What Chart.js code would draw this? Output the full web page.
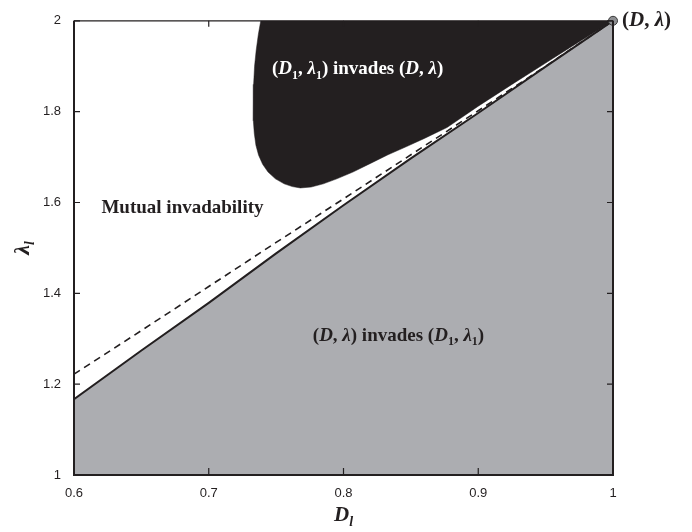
<!DOCTYPE html>
<html>
<head>
<meta charset="utf-8">
<script src="https://cdn.jsdelivr.net/npm/chart.js@4.4.0/dist/chart.umd.min.js"></script>
<style>
  html, body { margin: 0; padding: 0; background: #fff; }
</style>
</head>
<body>
<canvas id="invChart" width="692" height="532"></canvas>
<script>
// boundary curves (x = D1, y = lambda1)
const dValues = [0.6, 0.65, 0.7, 0.75, 0.8, 0.85, 0.9, 0.95, 1.0];
const solidLambda = [1.167, 1.274, 1.379, 1.488, 1.594, 1.697, 1.797, 1.899, 2.0];
const dashedLambda = [1.222, 1.318, 1.415, 1.512, 1.608, 1.705, 1.802, 1.900, 2.0];

// outline of the region where (D1, lambda1) invades (D, lambda)
const blackD = [0.7386, 0.7368, 0.7352, 0.7340, 0.7333, 0.7330, 0.7332, 0.7338, 0.7350, 0.7370,
    0.7400, 0.7440, 0.7495, 0.7560, 0.7620, 0.7680, 0.7760, 0.7850, 0.7950, 0.8070,
    0.8200, 0.8330, 0.8460, 0.8600, 0.8768, 0.9000, 0.9250, 0.9500, 0.9750, 1.0, 0.7386];
const blackLambda = [2.0, 1.97, 1.935, 1.90, 1.86, 1.82, 1.78, 1.752, 1.726, 1.704,
    1.684, 1.667, 1.652, 1.641, 1.635, 1.632, 1.634, 1.641, 1.652, 1.667,
    1.686, 1.705, 1.722, 1.741, 1.765, 1.812, 1.860, 1.907, 1.954, 2.0, 2.0];

// resident strategy
const residentD = [1.0];
const residentLambda = [2.0];

const xTicks = [0.6, 0.7, 0.8, 0.9, 1];
const xTickLabels = ['0.6', '0.7', '0.8', '0.9', '1'];
const yTicks = [1, 1.2, 1.4, 1.6, 1.8, 2];
const yTickLabels = ['1', '1.2', '1.4', '1.6', '1.8', '2'];

const DARK = '#231f20';
const GREY = '#acadb1';
const SERIF = '"Liberation Serif", "Times New Roman", serif';

function toPoints(xs, ys) {
    return xs.map((x, i) => ({ x: x, y: ys[i] }));
}

// text pieces: t = text, i = italic, s = subscript
const regionLabels = [
    { d: 0.8105, l: 1.882, size: 19, color: '#ffffff', align: 'center',
      runs: [{ t: '(' }, { t: 'D', i: true }, { t: '1', s: true }, { t: ', ' }, { t: 'λ', i: true }, { t: '1', s: true },
             { t: ') invades (' }, { t: 'D', i: true }, { t: ', ' }, { t: 'λ', i: true }, { t: ')' }] },
    { d: 0.6805, l: 1.577, size: 19, color: DARK, align: 'center',
      runs: [{ t: 'Mutual invadability' }] },
    { d: 0.8408, l: 1.296, size: 19, color: DARK, align: 'center',
      runs: [{ t: '(' }, { t: 'D', i: true }, { t: ', ' }, { t: 'λ', i: true }, { t: ') invades (' },
             { t: 'D', i: true }, { t: '1', s: true }, { t: ', ' }, { t: 'λ', i: true }, { t: '1', s: true }, { t: ')' }] }
];

function runFont(r, size) {
    const sz = r.s ? Math.round(size * 0.65) : size;
    return (r.i ? 'italic ' : '') + 'bold ' + sz + 'px ' + SERIF;
}

function drawRuns(ctx, runs, x, y, size, color, align) {
    let total = 0;
    runs.forEach(r => { ctx.font = runFont(r, size); total += ctx.measureText(r.t).width; });
    let cx = align === 'left' ? x : x - total / 2;
    ctx.fillStyle = color;
    ctx.textAlign = 'left';
    ctx.textBaseline = 'alphabetic';
    runs.forEach(r => {
        ctx.font = runFont(r, size);
        ctx.fillText(r.t, cx, r.s ? y + size * 0.22 : y);
        cx += ctx.measureText(r.t).width;
    });
}

const framePlugin = {
    id: 'frameAndLabels',
    afterDraw(chart) {
        const ctx = chart.ctx;
        const a = chart.chartArea;
        const xs = chart.scales.x;
        const ys = chart.scales.y;
        ctx.save();

        // frame
        ctx.strokeStyle = DARK;
        ctx.lineWidth = 2;
        ctx.beginPath();
        ctx.moveTo(a.left, a.top);
        ctx.lineTo(a.left, a.bottom);
        ctx.lineTo(a.right, a.bottom);
        ctx.lineTo(a.right, a.top);
        ctx.stroke();
        ctx.lineWidth = 1.2;
        ctx.beginPath();
        ctx.moveTo(a.left, a.top);
        ctx.lineTo(a.right, a.top);
        ctx.stroke();

        // inward ticks on all four sides
        ctx.lineWidth = 1.2;
        ctx.beginPath();
        xTicks.forEach(v => {
            const px = xs.getPixelForValue(v);
            ctx.moveTo(px, a.bottom);
            ctx.lineTo(px, a.bottom - 7);
            ctx.moveTo(px, a.top);
            ctx.lineTo(px, a.top + 6);
        });
        yTicks.forEach(v => {
            const py = ys.getPixelForValue(v);
            ctx.moveTo(a.left, py);
            ctx.lineTo(a.left + 6, py);
            ctx.moveTo(a.right, py);
            ctx.lineTo(a.right - 6, py);
        });
        ctx.stroke();

        // region labels
        regionLabels.forEach(lb => {
            drawRuns(ctx, lb.runs, xs.getPixelForValue(lb.d), ys.getPixelForValue(lb.l), lb.size, lb.color, lb.align);
        });

        // resident label next to the point
        drawRuns(ctx, [{ t: '(' }, { t: 'D', i: true }, { t: ', ' }, { t: 'λ', i: true }, { t: ')' }],
            xs.getPixelForValue(residentD[0]) + 9, ys.getPixelForValue(residentLambda[0]) + 5, 21, DARK, 'left');

        // axis titles
        const midX = (a.left + a.right) / 2;
        drawRuns(ctx, [{ t: 'D', i: true }, { t: 'l', i: true, s: true }], midX, 521, 21, DARK, 'center');
        ctx.translate(29, (a.top + a.bottom) / 2);
        ctx.rotate(-Math.PI / 2);
        drawRuns(ctx, [{ t: 'λ', i: true }, { t: 'l', i: true, s: true }], 0, 0, 22, DARK, 'center');

        ctx.restore();
    }
};

const ctx = document.getElementById('invChart').getContext('2d');
const invChart = new Chart(ctx, {
    type: 'scatter',
    data: {
        datasets: [
            {
                label: 'resident',
                data: toPoints(residentD, residentLambda),
                pointRadius: 4.5,
                pointBackgroundColor: '#8d8e91',
                pointBorderColor: '#3a3a3a',
                pointBorderWidth: 1,
                clip: false,
                order: 0
            },
            {
                label: 'dashed',
                data: toPoints(dValues, dashedLambda),
                showLine: true,
                borderColor: DARK,
                borderWidth: 1.6,
                borderDash: [7, 5],
                pointRadius: 0,
                fill: false,
                order: 1
            },
            {
                label: 'invades resident',
                data: toPoints(blackD, blackLambda),
                showLine: true,
                borderColor: DARK,
                borderWidth: 0.5,
                backgroundColor: DARK,
                pointRadius: 0,
                fill: 'shape',
                order: 2
            },
            {
                label: 'solid',
                data: toPoints(dValues, solidLambda),
                showLine: true,
                borderColor: DARK,
                borderWidth: 2,
                backgroundColor: GREY,
                pointRadius: 0,
                fill: 'start',
                order: 3
            }
        ]
    },
    options: {
        responsive: false,
        animation: false,
        layout: { padding: { top: 19, right: 79, left: 0, bottom: 0 } },
        plugins: {
            legend: { display: false },
            tooltip: { enabled: false }
        },
        scales: {
            x: {
                type: 'linear',
                min: 0.6,
                max: 1,
                grid: { display: false, drawTicks: false },
                border: { display: false },
                afterBuildTicks: axis => { axis.ticks = xTicks.map(v => ({ value: v })); },
                afterFit: axis => { axis.height = 57; },
                ticks: {
                    padding: 11,
                    color: DARK,
                    font: { family: '"Liberation Sans", Arial, sans-serif', size: 13 },
                    callback: (value, index) => xTickLabels[index]
                }
            },
            y: {
                type: 'linear',
                min: 1,
                max: 2,
                grid: { display: false, drawTicks: false },
                border: { display: false },
                afterBuildTicks: axis => { axis.ticks = yTicks.map(v => ({ value: v })); },
                afterFit: axis => { axis.width = 74; },
                ticks: {
                    padding: 13,
                    color: DARK,
                    font: { family: '"Liberation Sans", Arial, sans-serif', size: 13 },
                    callback: (value, index) => yTickLabels[index]
                }
            }
        }
    },
    plugins: [framePlugin]
});
</script>
</body>
</html>
